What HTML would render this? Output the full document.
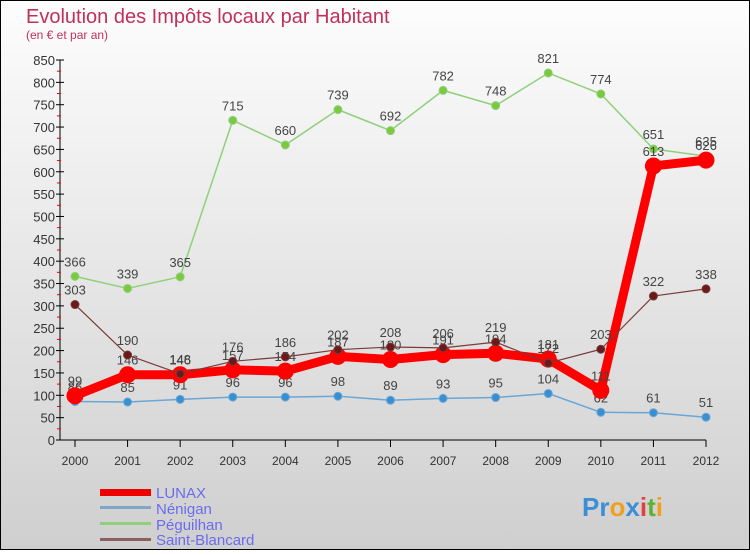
<!DOCTYPE html>
<html><head><meta charset="utf-8"><style>
body{margin:0}
#c{width:750px;height:550px;position:relative;font-family:"Liberation Sans",sans-serif}
</style></head><body>
<div id="c">
<svg id="s" width="750" height="550" xmlns="http://www.w3.org/2000/svg">
<defs><linearGradient id="bg" x1="0" y1="0" x2="0" y2="1"><stop offset="0" stop-color="#fdfdfd"/><stop offset="1" stop-color="#cfcfcf"/></linearGradient></defs>
<rect x="0.5" y="0.5" width="749" height="549" fill="url(#bg)" stroke="#000"/>
<text x="26" y="23" font-size="20" fill="#c0305a">Evolution des Impôts locaux par Habitant</text>
<text x="26" y="39" font-size="12" fill="#c0305a">(en € et par an)</text>
<g id="axes"></g><g id="series"></g>
<g>
<rect x="100" y="489" width="51" height="7" fill="#e00"/>
<text x="156" y="498" font-size="15" fill="#6b6bf0">LUNAX</text>
<rect x="100" y="506" width="51" height="3" fill="#7fa7c8"/>
<text x="156" y="514" font-size="15" fill="#6b6bf0">Nénigan</text>
<rect x="100" y="522" width="51" height="3" fill="#8fd07a"/>
<text x="156" y="530" font-size="15" fill="#6b6bf0">Péguilhan</text>
<rect x="100" y="538" width="51" height="3" fill="#8a6060"/>
<text x="156" y="545" font-size="15" fill="#6b6bf0">Saint-Blancard</text>
</g>
<text x="582" y="516" font-size="26" font-weight="bold"><tspan fill="#3a8fd8">Pr</tspan><tspan fill="#f0a020">o</tspan><tspan fill="#3a8fd8">x</tspan><tspan fill="#e04040">i</tspan><tspan fill="#60b030">t</tspan><tspan fill="#f0a020">i</tspan></text>
</svg>
</div>
<script>
const years=["2000","2001","2002","2003","2004","2005","2006","2007","2008","2009","2010","2011","2012"];
const yTicks=[0,50,100,150,200,250,300,350,400,450,500,550,600,650,700,750,800,850];
const lunax=[99,146,146,157,154,187,180,191,194,181,111,613,626];
const nenigan=[86,85,91,96,96,98,89,93,95,104,62,61,51];
const peguilhan=[366,339,365,715,660,739,692,782,748,821,774,651,635];
const saintBlancard=[303,190,148,176,186,202,208,206,219,172,203,322,338];
const NS="http://www.w3.org/2000/svg";
const x=i=>75+i*(706-75)/12;
const y=v=>440-v*380/850;
function mk(t,a,p){const e=document.createElementNS(NS,t);for(const k in a)e.setAttribute(k,a[k]);p.appendChild(e);return e;}
const ax=document.getElementById('axes');
let l=mk('line',{x1:60,y1:60,x2:60,y2:440,stroke:'#000'},ax);

l=mk('line',{x1:60,y1:440,x2:706,y2:440,stroke:'#000'},ax);

yTicks.forEach(v=>{mk('line',{x1:56,x2:64,y1:y(v),y2:y(v),stroke:'#000'},ax);
 if(v<850)mk('line',{x1:57,x2:61,y1:y(v+25),y2:y(v+25),stroke:'#e00'},ax);
 const t=mk('text',{x:55,y:y(v)+5,'font-size':13,fill:'#333','text-anchor':'end'},ax);t.textContent=v;
 });
years.forEach((yr,i)=>{mk('line',{x1:x(i),x2:x(i),y1:440,y2:447,stroke:'#000'},ax);
 const t=mk('text',{x:x(i),y:465,'font-size':12,fill:'#333','text-anchor':'middle'},ax);t.textContent=yr;
 });
const sg=document.getElementById('series');
function draw(name,data,color,w,r,dot){
 const g=mk('g',{},sg);
 mk('polyline',{points:data.map((v,i)=>x(i)+','+y(v)).join(' '),fill:'none',stroke:color,'stroke-width':w,'stroke-linejoin':'round'},g);
 data.forEach((v,i)=>{const c=mk('circle',{cx:x(i),cy:y(v),r:r,fill:dot,stroke:color,'stroke-width':1},g);
  
  const t=mk('text',{x:x(i),y:y(v)-10,'font-size':13,fill:'#444','text-anchor':'middle'},g);t.textContent=v;
  });
}
draw('peguilhan',peguilhan,'#8fd07a',1.5,4,'#7cc840');
draw('nenigan',nenigan,'#6aa6d6',1.5,4,'#3a8fd0');
draw('lunax',lunax,'#f00',9,8,'#f00');
draw('saint-blancard',saintBlancard,'#7a3a3a',1.2,4,'#6a1a1a');
</script>
</body></html>
